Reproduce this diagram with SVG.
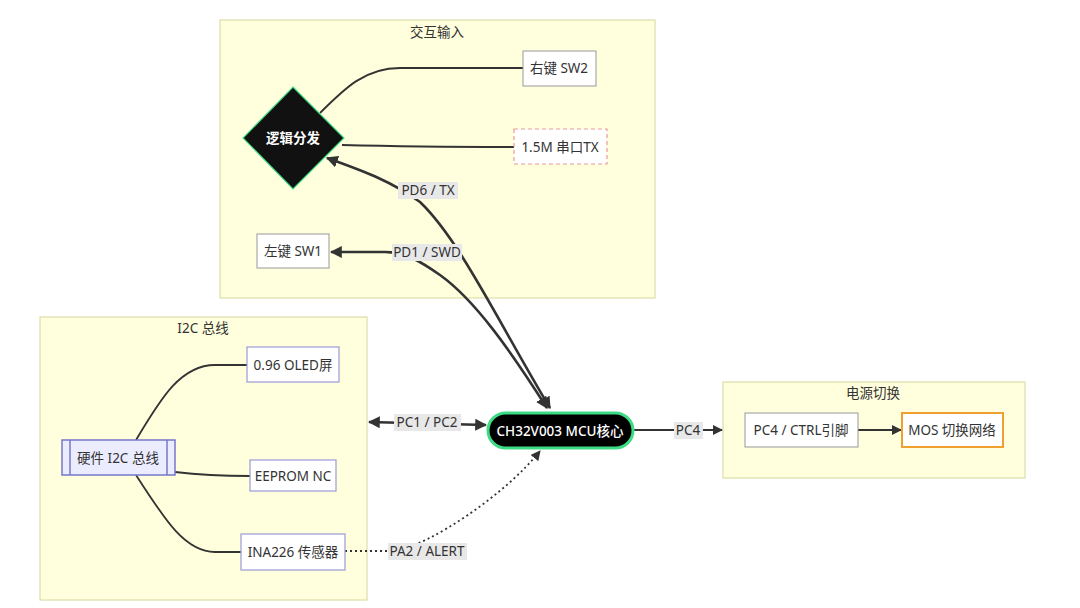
<svg xmlns="http://www.w3.org/2000/svg" width="1080" height="608" viewBox="0 0 1080 608">
<defs>
<style>
text{font-family:"Noto Sans","Noto Sans CJK SC",sans-serif;font-size:13.5px;fill:#333;text-anchor:middle;dominant-baseline:central}
.cl{fill:#ffffde;stroke:#d6d69a;stroke-width:1}
.box{fill:#fff;stroke:#999;stroke-width:1}
.pbox{fill:#fff;stroke:#9a9ad8;stroke-width:1.2}
.e{fill:none;stroke:#333;stroke-width:1.8}
.eb{fill:none;stroke:#333;stroke-width:2.6}
.lb{fill:#e8e8e8}
.w{fill:#fff}
</style>
<marker id="ah" viewBox="0 0 10 10" refX="9" refY="5" markerWidth="10" markerHeight="10" markerUnits="userSpaceOnUse" orient="auto-start-reverse">
<path d="M0,0 L10,5 L0,10 z" fill="#333"/>
</marker>
<marker id="ahb" viewBox="0 0 10 10" refX="9" refY="5" markerWidth="12" markerHeight="12" markerUnits="userSpaceOnUse" orient="auto-start-reverse">
<path d="M0,0 L10,5 L0,10 z" fill="#333"/>
</marker>
</defs>
<rect width="1080" height="608" fill="#fff"/>

<g id="cluster-input">
<rect class="cl" x="220" y="20" width="435" height="278"/>
<text x="437" y="32">交互输入</text>
</g>
<g id="cluster-i2c">
<rect class="cl" x="40" y="317" width="327" height="283"/>
<text x="203" y="328">I2C 总线</text>
</g>
<g id="cluster-power">
<rect class="cl" x="723" y="382" width="302" height="96"/>
<text x="873" y="393">电源切换</text>
</g>

<g id="connectors">
<path class="e" d="M320,113 C345,88 365,68 400,68 L523,68"/>
<path class="e" d="M342,145 C380,146 450,147 514,147"/>
<path class="eb" d="M550,408 C500,325 460,240 420,202 C390,180 360,170 327,158" marker-start="url(#ahb)" marker-end="url(#ahb)"/>
<path class="eb" d="M547,408 C510,350 475,300 440,275 C420,261 405,252 385,252 L331,252" marker-start="url(#ahb)" marker-end="url(#ahb)"/>
<path class="e" d="M136,440 C160,400 180,365 215,365 L247,365"/>
<path class="e" d="M175,472 C200,475 220,476 250,476"/>
<path class="e" d="M136,475 C165,520 185,552 215,552 L241,552"/>
<path class="eb" d="M369,422 L486,425" marker-start="url(#ahb)" marker-end="url(#ahb)"/>
<path class="e" d="M633,430 L722,430" marker-end="url(#ah)"/>
<path class="e" d="M345,551 L395,551 C430,545 505,495 540,451" stroke-dasharray="2,3" marker-end="url(#ah)"/>
<path class="e" d="M858,430 L901,430" marker-end="url(#ah)"/>
<rect class="lb" x="398" y="182" width="60" height="17"/>
<text x="428" y="190">PD6 / TX</text>
<rect class="lb" x="392" y="244" width="70" height="17"/>
<text x="427" y="252">PD1 / SWD</text>
<rect class="lb" x="394" y="414" width="67" height="17"/>
<text x="427" y="422">PC1 / PC2</text>
<rect class="lb" x="674" y="422" width="29" height="17"/>
<text x="688" y="430">PC4</text>
<rect class="lb" x="388" y="543" width="79" height="17"/>
<text x="427" y="551">PA2 / ALERT</text>
</g>

<g id="node-sw2">
<rect class="box" x="523" y="51" width="73" height="35"/>
<text x="559" y="68">右键 SW2</text>
</g>
<g id="node-tx">
<rect x="514" y="129" width="93" height="35" fill="#fff" stroke="#e89a9a" stroke-width="1.2" stroke-dasharray="4,3"/>
<text x="560" y="147">1.5M 串口TX</text>
</g>
<g id="node-logic">
<polygon points="293,87 344,138 293,189 243,138" fill="#111" stroke="#3ddc84" stroke-width="1.2"/>
<text x="293" y="138" style="fill:#fff;font-weight:600">逻辑分发</text>
</g>
<g id="node-sw1">
<rect class="box" x="257" y="234" width="72" height="34"/>
<text x="293" y="251">左键 SW1</text>
</g>
<g id="node-i2c">
<rect x="62" y="440" width="113" height="35" fill="#ececff" stroke="#7777cc" stroke-width="1.5"/>
<line x1="70" y1="440" x2="70" y2="475" stroke="#7777cc" stroke-width="1.5"/>
<line x1="167" y1="440" x2="167" y2="475" stroke="#7777cc" stroke-width="1.5"/>
<text x="118" y="458">硬件 I2C 总线</text>
</g>
<g id="node-oled">
<rect class="pbox" x="247" y="347" width="92" height="35"/>
<text x="293" y="365">0.96 OLED屏</text>
</g>
<g id="node-eeprom">
<rect class="pbox" x="250" y="460" width="86" height="31"/>
<text x="293" y="476">EEPROM NC</text>
</g>
<g id="node-ina">
<rect class="pbox" x="241" y="534" width="104" height="36"/>
<text x="293" y="552">INA226 传感器</text>
</g>
<g id="node-mcu">
<rect x="488" y="413" width="145" height="35" rx="17.5" fill="#000" stroke="#3ddc84" stroke-width="3"/>
<text x="560" y="431" style="fill:#fff;font-weight:500">CH32V003 MCU核心</text>
</g>
<g id="node-ctrl">
<rect class="box" x="745" y="413" width="113" height="34"/>
<text x="801" y="430">PC4 / CTRL引脚</text>
</g>
<g id="node-mos">
<rect x="902" y="413" width="101" height="34" fill="#fff" stroke="#f0a030" stroke-width="2"/>
<text x="952" y="430">MOS 切换网络</text>
</g>
</svg>
